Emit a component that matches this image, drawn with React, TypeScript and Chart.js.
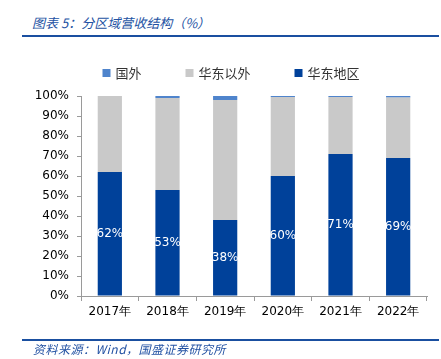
import React, { useEffect, useRef } from "react";
import { Chart, registerables } from "chart.js";

Chart.register(...registerables);

const categories = ["2017年", "2018年", "2019年", "2020年", "2021年", "2022年"];
const eastChina = [62, 53, 38, 60, 71, 69];
const outsideEast = [38, 46, 60, 39.5, 28.5, 30.2];
const overseas = [0, 1, 2, 0.5, 0.5, 0.8];
const seriesNames = ["华东地区", "华东以外", "国外"];
const seriesColors = ["#00419a", "#c9c9c9", "#4f84cc"];
const titleText = "图表 5：分区域营收结构（%）";
const sourceText = "资料来源：Wind，国盛证券研究所";

const legendPlugin = {
  id: "customLegend",
  afterDraw(chart: any) {
    const ctx = chart.ctx;
    ctx.save();
    ctx.font = "13px 'Noto Sans CJK SC'";
    ctx.textBaseline = "middle";
    const items = chart.data.datasets.map((d: any) => ({ text: d.label, color: d.backgroundColor })).reverse();
    const box = 8;
    const gap = 5;
    const spacing = 44;
    let total = 0;
    items.forEach((it: any, i: number) => {
      total += box + gap + ctx.measureText(it.text).width + (i < items.length - 1 ? spacing : 0);
    });
    let x = 231 - total / 2;
    const y = 73;
    items.forEach((it: any) => {
      ctx.fillStyle = it.color;
      ctx.fillRect(x, y - box / 2, box, box);
      x += box + gap;
      ctx.fillStyle = "#333";
      ctx.fillText(it.text, x, y);
      x += ctx.measureText(it.text).width + spacing;
    });
    ctx.restore();
  },
};

const labelPlugin = {
  id: "barLabels",
  afterDatasetsDraw(chart: any) {
    const ctx = chart.ctx;
    const meta = chart.getDatasetMeta(0);
    ctx.save();
    ctx.font = "12px 'DejaVu Sans'";
    ctx.fillStyle = "#ffffff";
    ctx.textAlign = "center";
    ctx.textBaseline = "middle";
    meta.data.forEach((bar: any, i: number) => {
      const v = chart.data.datasets[0].data[i];
      ctx.fillText(Math.round(v) + "%", bar.x, (bar.y + bar.base) / 2);
    });
    ctx.restore();
  },
};

export default function App() {
  const ref = useRef<HTMLCanvasElement>(null);
  useEffect(() => {
    const values = [eastChina, outsideEast, overseas];
    const chart = new Chart(ref.current!, {
      type: "bar",
      data: {
        labels: categories,
        datasets: seriesNames.map((name, i) => ({
          label: name,
          data: values[i],
          backgroundColor: seriesColors[i],
          borderWidth: 0,
          barPercentage: 0.42,
          categoryPercentage: 1,
        })),
      },
      options: {
        responsive: false,
        animation: false,
        layout: { padding: { top: 96, right: 14, left: 0, bottom: 0 } },
        plugins: { legend: { display: false }, tooltip: { enabled: false } },
        scales: {
          x: {
            stacked: true,
            grid: { display: true, drawOnChartArea: false, drawTicks: true, tickLength: 5, color: "#9a9a9a", offset: true },
            border: { display: true, color: "#9a9a9a" },
            ticks: { color: "#000", font: { family: "'DejaVu Sans'", size: 12 }, padding: 4, maxRotation: 0 },
            afterFit: (s: any) => { s.height = 63; },
          },
          y: {
            stacked: true,
            min: 0,
            max: 100,
            grid: { display: true, drawOnChartArea: false, drawTicks: true, tickLength: 4, color: "#9a9a9a" },
            border: { display: true, color: "#9a9a9a" },
            ticks: { stepSize: 10, color: "#000", font: { family: "'DejaVu Sans'", size: 12 }, padding: 8, callback: (v: any) => v + "%" },
            afterFit: (s: any) => { s.width = 81; },
          },
        },
      },
      plugins: [legendPlugin, labelPlugin],
    });
    return () => chart.destroy();
  }, []);

  const textStyle: React.CSSProperties = {
    position: "absolute",
    fontFamily: "'Noto Sans CJK SC', sans-serif",
    fontStyle: "italic",
    color: "#2352a3",
    whiteSpace: "nowrap",
  };

  return (
    <div style={{ position: "absolute", left: 0, top: 0, width: 441, height: 359, background: "#fff" }}>
      <div style={{ ...textStyle, left: 32, top: 14, fontSize: 13, lineHeight: "18px" }}>{titleText}</div>
      <div style={{ position: "absolute", left: 22, top: 35, width: 417, height: 2, background: "#1a4fa0" }} />
      <canvas ref={ref} width={441} height={359} style={{ position: "absolute", left: 0, top: 0 }} />
      <div style={{ position: "absolute", left: 22, top: 339, width: 417, height: 2, background: "#1a4fa0" }} />
      <div style={{ ...textStyle, left: 33, top: 341, fontSize: 12, lineHeight: "16px", letterSpacing: "0.5px" }}>{sourceText}</div>
    </div>
  );
}
